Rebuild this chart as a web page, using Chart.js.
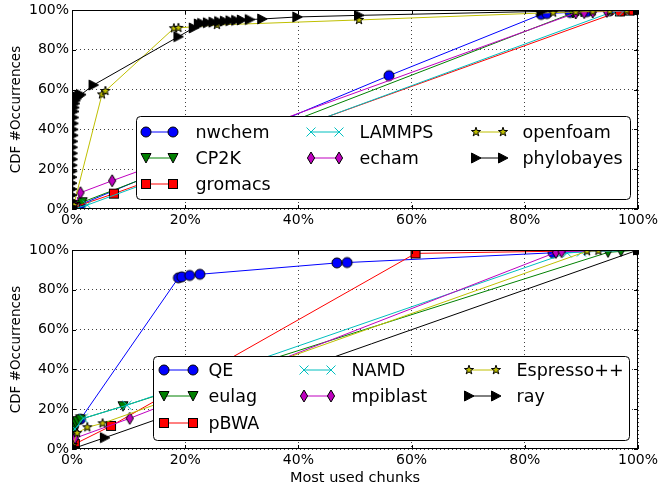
<!DOCTYPE html>
<html><head><meta charset="utf-8">
<script src="https://cdn.jsdelivr.net/npm/chart.js@4"></script>
<style>
html,body{margin:0;padding:0;background:#fff;}
#wrap{position:relative;width:663px;height:493px;background:#fff;}
canvas{position:absolute;left:0;}
</style></head><body>
<div id="wrap">
<canvas id="c1" width="663" height="240" style="top:0px"></canvas>
<canvas id="c2" width="663" height="253" style="top:240px"></canvas>
</div>
<script>
const X_TICKS = [0, 20, 40, 60, 80, 100];
const Y_TICKS = [0, 20, 40, 60, 80, 100];
const X_TITLE = 'Most used chunks';
const Y_TITLE = 'CDF #Occurrences';

// ---- top panel ----
const TOP_NAMES = ['nwchem', 'CP2K', 'gromacs', 'LAMMPS', 'echam', 'openfoam', 'phylobayes'];
const nwchemX = [0.5, 1.5, 56, 82.9, 83.9, 88, 91, 95, 97, 100];
const nwchemY = [1.2, 2.2, 67, 97.8, 98.2, 98.8, 99.2, 99.5, 99.8, 100];
const cp2kX = [0.3, 0.8, 1.8, 88.5, 90, 92, 95, 100];
const cp2kY = [0.5, 2, 3.4, 98.5, 99, 99.5, 99.8, 100];
const gromacsX = [0.5, 7.4, 96.8, 98.5, 100];
const gromacsY = [1, 7.7, 99.3, 99.7, 100];
const lammpsX = [0.5, 2.7, 95.6, 97.5, 100];
const lammpsY = [0.3, 2, 99.2, 99.6, 100];
const echamX = [0.3, 1.5, 7.1, 89, 90.5, 92, 94.5, 100];
const echamY = [1, 8.2, 14.2, 98.5, 98.7, 99, 99.3, 100];
const openfoamX = [0, 0.3, 5.3, 5.9, 18, 18.8, 25.6, 50.7, 85, 89, 92, 95, 98, 100];
const openfoamY = [0, 2, 57.6, 59.3, 90.8, 91, 92.5, 95, 98.7, 99, 99.3, 99.5, 99.8, 100];
const phyloX = [0, 0, 0, 0, 0, 0, 0.05, 0.05, 0.1, 0.1, 0.1, 0.15, 0.2, 0.2, 0.25, 0.3, 0.35, 0.4, 0.5, 0.6, 0.8, 1.0, 1.3, 1.6,
                3.8, 18.8, 21.5, 22.4, 23, 24, 25, 26, 27, 28, 29, 30, 31.4, 33.6, 39.8, 50.7, 83, 100];
const phyloY = [1, 4, 7, 10, 13, 16, 19, 22, 25, 28, 31, 34, 37, 40, 43, 46, 49, 51, 53, 54.5, 55.5, 56.3, 57, 57.5,
                62.3, 86.6, 91, 93, 93.3, 93.6, 93.9, 94.2, 94.4, 94.6, 94.8, 95, 95.2, 95.5, 96.5, 97.3, 99.3, 100];

// ---- bottom panel ----
const BOTTOM_NAMES = ['QE', 'eulag', 'pBWA', 'NAMD', 'mpiblast', 'Espresso++', 'ray'];
const qeX = [0.3, 1.5, 18.8, 19.4, 20.8, 22.6, 46.8, 48.6, 85, 100];
const qeY = [8, 15, 86, 86.5, 87.2, 87.8, 93.5, 93.7, 98.6, 100];
const eulagX = [0.1, 0.2, 0.3, 0.4, 0.5, 0.7, 1.0, 1.5, 9, 94.7, 97, 100];
const eulagY = [5, 7, 9, 10.5, 12, 13, 14, 14.9, 21.5, 98.8, 99.3, 100];
const pbwaX = [0.2, 0.5, 6.9, 60.7, 100];
const pbwaY = [1, 2.5, 11.6, 98.3, 100];
const namdX = [0.5, 2, 9.7, 87.5, 90, 100];
const namdY = [10, 15.4, 22, 98.5, 99, 100];
const mpiblastX = [0.1, 0.5, 10.2, 85.5, 86.5, 100];
const mpiblastY = [3, 5.4, 15.4, 98.8, 99.2, 100];
const espressoX = [0.1, 0.9, 2.7, 5.4, 91, 93, 100];
const espressoY = [2, 8, 10.9, 12.9, 99.4, 99.6, 100];
const rayX = [0, 0.5, 5.8, 100];
const rayY = [0, 0.5, 5.7, 100];

const FONT = "'DejaVu Sans', 'Bitstream Vera Sans', sans-serif";
const C = {blue:'#0000ff', green:'#008000', red:'#ff0000', cyan:'#00bfbf', magenta:'#bf00bf', yellow:'#bfbf00', black:'#000000'};

function mk(draw){
  const c = document.createElement('canvas'); c.width = 18; c.height = 18;
  const g = c.getContext('2d'); g.translate(9, 9); g.lineWidth = 1; g.strokeStyle = '#000';
  draw(g); return c;
}
const MARK = {
  circle: f => mk(g => { g.beginPath(); g.arc(0, 0, 5, 0, Math.PI*2); g.fillStyle = f; g.fill(); g.stroke(); }),
  triDown: f => mk(g => { g.beginPath(); g.moveTo(-5, -4.5); g.lineTo(5, -4.5); g.lineTo(0, 5); g.closePath(); g.fillStyle = f; g.fill(); g.stroke(); }),
  triRight: f => mk(g => { g.beginPath(); g.moveTo(-4.5, -5); g.lineTo(5, 0); g.lineTo(-4.5, 5); g.closePath(); g.fillStyle = f; g.fill(); g.stroke(); }),
  square: f => mk(g => { g.fillStyle = f; g.fillRect(-4.5, -4.5, 9, 9); g.strokeRect(-4.5, -4.5, 9, 9); }),
  cross: f => mk(g => { g.strokeStyle = f; g.beginPath(); g.moveTo(-4.5, -4.5); g.lineTo(4.5, 4.5); g.moveTo(4.5, -4.5); g.lineTo(-4.5, 4.5); g.stroke(); }),
  thinDiamond: f => mk(g => { g.beginPath(); g.moveTo(0, -6); g.lineTo(3.6, 0); g.lineTo(0, 6); g.lineTo(-3.6, 0); g.closePath(); g.fillStyle = f; g.fill(); g.stroke(); }),
  star: f => mk(g => { g.beginPath(); for (let k = 0; k < 10; k++) { const r = k % 2 ? 1.9 : 4.8; const a = -Math.PI/2 + k*Math.PI/5; g.lineTo(r*Math.cos(a), r*Math.sin(a)); } g.closePath(); g.fillStyle = f; g.fill(); g.stroke(); })
};

function ds(label, xs, ys, color, marker, i, n){
  return {label, data: xs.map((x, k) => ({x, y: ys[k]})), borderColor: color, backgroundColor: color,
    borderWidth: 1, showLine: true, fill: false, tension: 0, pointStyle: marker, pointRadius: 5, pointHoverRadius: 5, order: n - i};
}

const topSets = [
  [nwchemX, nwchemY, C.blue, MARK.circle(C.blue)],
  [cp2kX, cp2kY, C.green, MARK.triDown(C.green)],
  [gromacsX, gromacsY, C.red, MARK.square(C.red)],
  [lammpsX, lammpsY, C.cyan, MARK.cross(C.cyan)],
  [echamX, echamY, C.magenta, MARK.thinDiamond(C.magenta)],
  [openfoamX, openfoamY, C.yellow, MARK.star(C.yellow)],
  [phyloX, phyloY, C.black, MARK.triRight(C.black)]
].map((s, i, a) => ds(TOP_NAMES[i], s[0], s[1], s[2], s[3], i, a.length));

const bottomSets = [
  [qeX, qeY, C.blue, MARK.circle(C.blue)],
  [eulagX, eulagY, C.green, MARK.triDown(C.green)],
  [pbwaX, pbwaY, C.red, MARK.square(C.red)],
  [namdX, namdY, C.cyan, MARK.cross(C.cyan)],
  [mpiblastX, mpiblastY, C.magenta, MARK.thinDiamond(C.magenta)],
  [espressoX, espressoY, C.yellow, MARK.star(C.yellow)],
  [rayX, rayY, C.black, MARK.triRight(C.black)]
].map((s, i, a) => ds(BOTTOM_NAMES[i], s[0], s[1], s[2], s[3], i, a.length));

function framePlugin(L){
  return {
    id: 'frame',
    afterDatasetsDraw(chart){
      const {ctx, chartArea: a, scales} = chart;
      ctx.save();
      ctx.strokeStyle = '#000'; ctx.lineWidth = 1; ctx.setLineDash([]);
      ctx.beginPath();
      X_TICKS.forEach(v => { const p = Math.round(scales.x.getPixelForValue(v)) + 0.5;
        ctx.moveTo(p, a.bottom); ctx.lineTo(p, a.bottom - 4); ctx.moveTo(p, a.top); ctx.lineTo(p, a.top + 4); });
      Y_TICKS.forEach(v => { const p = Math.round(scales.y.getPixelForValue(v)) + 0.5;
        ctx.moveTo(a.left, p); ctx.lineTo(a.left + 4, p); ctx.moveTo(a.right, p); ctx.lineTo(a.right - 4, p); });
      ctx.stroke();
      // legend
      const bx = Math.round(a.right - L.right - L.width) + 0.5, by = Math.round(a.bottom - L.bottom - L.height) + 0.5;
      ctx.beginPath(); ctx.roundRect(bx, by, L.width, L.height, 4);
      ctx.fillStyle = '#fff'; ctx.fill(); ctx.strokeStyle = '#000'; ctx.stroke();
      const counts = [3, 2, 2];
      let idx = 0;
      ctx.font = L.font + 'px ' + FONT; ctx.textBaseline = 'middle'; ctx.textAlign = 'left';
      counts.forEach((cnt, col) => {
        for (let r = 0; r < cnt; r++, idx++) {
          const d = chart.data.datasets[idx];
          const c = L.cols[col];
          const y = Math.round(by + L.rows[r]);
          const x1 = Math.round(bx + c[0]), x2 = Math.round(bx + c[1]);
          ctx.strokeStyle = d.borderColor; ctx.lineWidth = 1;
          ctx.beginPath(); ctx.moveTo(x1, y); ctx.lineTo(x2, y); ctx.stroke();
          const img = d.pointStyle;
          ctx.drawImage(img, x1 - img.width/2, y - img.height/2);
          ctx.drawImage(img, x2 - img.width/2, y - img.height/2);
          ctx.fillStyle = '#000';
          ctx.fillText(d.label, bx + c[2], y + 1);
        }
      });
      ctx.strokeStyle = '#000'; ctx.lineWidth = 1;
      ctx.strokeRect(Math.round(a.left) + 0.5, Math.round(a.top) + 0.5, Math.round(a.width) - 1, Math.round(a.height) - 1);
      ctx.restore();
    }
  };
}

function makeChart(id, datasets, L, xH, xTitle){
  return new Chart(document.getElementById(id), {
    type: 'scatter',
    data: {datasets},
    options: {
      responsive: false, animation: false, devicePixelRatio: 1, events: [],
      layout: {padding: {top: 10, right: 25, left: 0, bottom: 0}},
      plugins: {legend: {display: false}, tooltip: {enabled: false}},
      scales: {
        x: {
          type: 'linear', min: 0, max: 100,
          afterBuildTicks: s => { s.ticks = X_TICKS.map(v => ({value: v})); },
          afterFit: s => { s.height = xH; s.paddingLeft = 0; s.paddingRight = 0; },
          ticks: {callback: v => v + '%', color: '#000', font: {family: FONT, size: 14}, padding: 3, maxRotation: 0, autoSkip: false},
          grid: {color: 'rgba(0,0,0,0.75)', lineWidth: 1, drawTicks: false, borderDash: [1, 3]},
          border: {display: false, dash: [1, 3]},
          title: xTitle ? {display: true, text: xTitle, color: '#000', font: {family: FONT, size: 14.5}, padding: {top: 0, bottom: 6}} : {display: false}
        },
        y: {
          type: 'linear', min: 0, max: 100,
          afterBuildTicks: s => { s.ticks = Y_TICKS.map(v => ({value: v})); },
          afterFit: s => { s.width = 72; s.paddingTop = 0; s.paddingBottom = 0; },
          ticks: {callback: v => v + '%', color: '#000', font: {family: FONT, size: 14}, padding: 3, autoSkip: false},
          grid: {color: 'rgba(0,0,0,0.75)', lineWidth: 1, drawTicks: false, borderDash: [1, 3]},
          border: {display: false, dash: [1, 3]},
          title: {display: true, text: Y_TITLE, color: '#000', font: {family: FONT, size: 13.5}, padding: {top: 8, bottom: 0}}
        }
      }
    },
    plugins: [framePlugin(L)]
  });
}

makeChart('c1', topSets, {right: 8, bottom: 10, width: 494, height: 83, font: 17.5,
  cols: [[9, 36, 59], [174, 202, 223], [339, 366, 386]], rows: [15, 41, 67]}, 31, null);
makeChart('c2', bottomSets, {right: 9, bottom: 9, width: 476, height: 84, font: 17.5,
  cols: [[10, 39, 55], [150, 177, 198], [315, 342, 363]], rows: [13, 39, 66]}, 44, X_TITLE);
</script>
</body></html>
